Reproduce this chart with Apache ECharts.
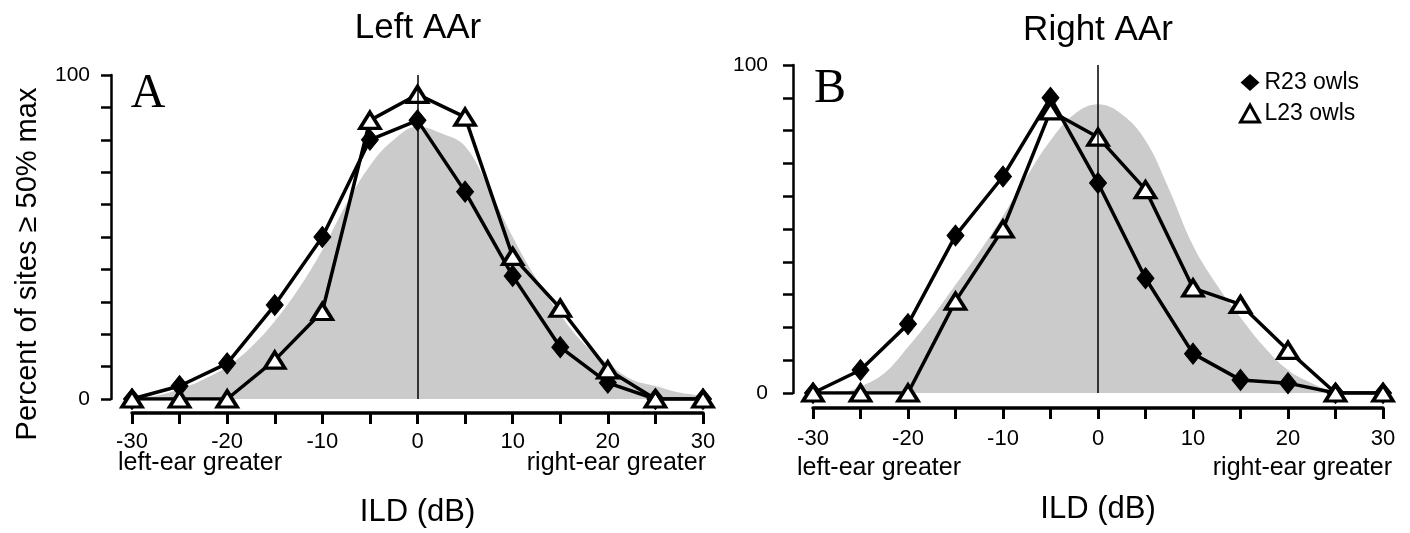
<!DOCTYPE html>
<html>
<head>
<meta charset="utf-8">
<script src="https://cdn.jsdelivr.net/npm/echarts@6/dist/echarts.min.js"></script>
<style>
  html, body { margin: 0; padding: 0; background: #fff; }
  #chart { width: 1410px; height: 533px; }
</style>
</head>
<body>
<div id="chart"></div>
<script>
// ILD values (dB) where the owls were tested
const ild = [-30, -25, -20, -15, -10, -5, 0, 5, 10, 15, 20, 25, 30];
// panel A - left AAr
const leftR23 = [0, 4, 11, 29, 50, 80, 86, 64, 38, 16, 5, 0, 0];
const leftL23 = [0, 0, 0, 12, 27, 86, 94, 87, 44, 28, 9, 0, 0];
// panel B - right AAr
const rightR23 = [0, 7, 21, 48, 66, 90, 64, 35, 12, 4, 3, 0, 0];
const rightL23 = [0, 0, 0, 28, 50, 86, 78, 62, 32, 27, 13, 0, 0];
// gray background distribution (normal owls)
const shadeIld = [-30, -27.5, -25, -22.5, -20, -17.5, -15, -12.5, -10, -7.5, -5, -2.5, 0,
                  2.5, 5, 7.5, 10, 12.5, 15, 17.5, 20, 22.5, 25, 27.5, 30];
const leftShade = [0.5, 1, 3, 6, 10, 16, 24, 34, 46, 60, 72, 80, 84,
                   82, 78, 65, 50, 37, 26, 17, 11, 6, 4, 2, 1];
const rightShade = [0, 0, 2, 6, 14, 23, 33, 43, 54, 66, 77, 85, 88,
                    85, 77, 62, 45, 33, 23, 14, 7, 3, 0.5, 0, 0];
const xTicks = [-30, -20, -10, 0, 10, 20, 30];
const yTicks = [0, 100];

const FONT = "'Liberation Sans', Arial, Helvetica, sans-serif";
const SERIF = "'Liberation Serif', 'Times New Roman', serif";

const pair = (xs, ys) => xs.map((x, i) => [x, ys[i]]);

let mychart = echarts.init(document.getElementById('chart'));

// each panel: grid for the data, a grid carrying only the y axis (set off to the left)
// and a grid carrying only the x axis (set off below)
const hiddenX = idx => ({ type: 'value', gridIndex: idx, min: -30, max: 30, show: false });
const hiddenY = idx => ({ type: 'value', gridIndex: idx, min: 0, max: 100, show: false });

const xAxisFor = (idx, labelMargin, nameGap) => ({
    type: 'value',
    gridIndex: idx,
    min: -30,
    max: 30,
    interval: 5,
    name: 'ILD (dB)',
    nameLocation: 'middle',
    nameGap: nameGap,
    nameTextStyle: { fontFamily: FONT, fontSize: 31, color: '#000' },
    axisLine: { show: true, onZero: false, lineStyle: { color: '#000', width: 3.5 } },
    axisTick: { show: true, length: 11, lineStyle: { color: '#000', width: 3 } },
    axisLabel: {
        margin: labelMargin,
        fontFamily: FONT, fontSize: 22, color: '#000',
        formatter: v => xTicks.indexOf(v) >= 0 ? String(v) : ''
    },
    splitLine: { show: false }
});

const yAxisFor = (idx, labelMargin) => ({
    type: 'value',
    gridIndex: idx,
    min: 0,
    max: 100,
    interval: 10,
    axisLine: { show: true, onZero: false, lineStyle: { color: '#000', width: 2.5 } },
    axisTick: { show: true, length: 10, lineStyle: { color: '#000', width: 2.5 } },
    axisLabel: {
        margin: labelMargin,
        fontFamily: FONT, fontSize: 21, color: '#000',
        formatter: v => yTicks.indexOf(v) >= 0 ? String(v) : ''
    },
    splitLine: { show: false }
});

const shadeSeries = (idx, data) => ({
    name: 'shade' + idx,
    type: 'line',
    xAxisIndex: idx,
    yAxisIndex: idx,
    smooth: 0.4,
    symbol: 'none',
    lineStyle: { width: 0 },
    areaStyle: { color: '#cbcbcb', opacity: 1 },
    silent: true,
    z: 1,
    data: pair(shadeIld, data),
    markLine: {
        silent: true,
        symbol: 'none',
        label: { show: false },
        lineStyle: { color: '#000', width: 1.5, type: 'solid' },
        data: [{ xAxis: 0 }]
    }
});

const r23Series = (idx, data) => ({
    name: 'R23 owls',
    type: 'line',
    xAxisIndex: idx,
    yAxisIndex: idx,
    symbol: 'diamond',
    symbolSize: [17, 21],
    itemStyle: { color: '#000', borderColor: '#000', borderWidth: 1 },
    lineStyle: { color: '#000', width: 3.5 },
    z: 3,
    data: pair(ild, data)
});

const l23Series = (idx, data) => ({
    name: 'L23 owls',
    type: 'line',
    xAxisIndex: idx,
    yAxisIndex: idx,
    symbol: 'triangle',
    symbolSize: [20, 16],
    itemStyle: { color: '#fff', borderColor: '#000', borderWidth: 3.5 },
    lineStyle: { color: '#000', width: 3.5 },
    z: 4,
    data: pair(ild, data)
});

const label = (x, y, str, size, align, family, rotation) => ({
    type: 'text',
    x: x, y: y,
    rotation: rotation || 0,
    style: {
        text: str,
        fontFamily: family || FONT,
        fontSize: size,
        fill: '#000',
        align: align || 'left',
        verticalAlign: 'middle'
    }
});

let option = {
    backgroundColor: '#fff',
    animation: false,
    grid: [
        { left: 132, right: 707, top: 75, bottom: 134 },   // A data
        { left: 111, right: 1298, top: 75, bottom: 134 },  // A y axis
        { left: 132, right: 707, top: 75, bottom: 120 },   // A x axis
        { left: 813, right: 27, top: 65, bottom: 140 },    // B data
        { left: 793, right: 616, top: 65, bottom: 140 },   // B y axis
        { left: 813, right: 27, top: 65, bottom: 125 }     // B x axis
    ],
    legend: {
        orient: 'vertical',
        left: 1234,
        top: 66,
        itemWidth: 19,
        itemHeight: 17,
        itemGap: 8,
        textStyle: { fontFamily: FONT, fontSize: 23, color: '#000' },
        data: [
            { name: 'R23 owls', icon: 'diamond', itemStyle: { color: '#000', borderWidth: 0 } },
            { name: 'L23 owls', icon: 'triangle', itemStyle: { color: '#fff', borderColor: '#000', borderWidth: 3 } }
        ]
    },
    xAxis: [
        hiddenX(0),
        hiddenX(1),
        xAxisFor(2, 18, 84),
        hiddenX(3),
        hiddenX(4),
        xAxisFor(5, 20, 86)
    ],
    yAxis: [
        hiddenY(0),
        yAxisFor(1, 21),
        hiddenY(2),
        hiddenY(3),
        yAxisFor(4, 25),
        hiddenY(5)
    ],
    graphic: [
        label(418, 28, 'Left AAr', 35, 'center'),
        label(1098, 30, 'Right AAr', 35, 'center'),
        label(28, 264, 'Percent of sites \u2265 50% max', 29, 'center', FONT, Math.PI / 2),
        label(148, 94, 'A', 48, 'center', SERIF),
        label(830, 89, 'B', 48, 'center', SERIF),
        label(118, 463, 'left-ear greater', 25, 'left'),
        label(706, 463, 'right-ear greater', 25, 'right'),
        label(797, 468, 'left-ear greater', 25, 'left'),
        label(1392, 468, 'right-ear greater', 25, 'right')
    ],
    series: [
        shadeSeries(0, leftShade),
        r23Series(0, leftR23),
        l23Series(0, leftL23),
        shadeSeries(3, rightShade),
        r23Series(3, rightR23),
        l23Series(3, rightL23)
    ]
};
mychart.setOption(option);
window.addEventListener('resize', () => {
    mychart.resize();
});
</script>
</body>
</html>
